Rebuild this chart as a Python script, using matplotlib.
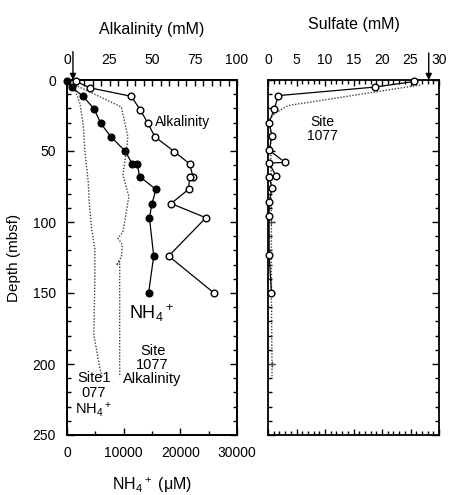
import matplotlib
matplotlib.use("Agg")
import matplotlib.pyplot as plt
from matplotlib.ticker import MultipleLocator

plt.rcParams["font.family"] = ["Liberation Sans", "DejaVu Sans"]
plt.rcParams["mathtext.default"] = "regular"

# Hole A pore-water profiles (mbsf)
nh4_depth = [1, 5, 11.5, 20.5, 30.5, 40, 50, 59, 59, 68, 77, 87, 97, 124, 150]
nh4_um = [0, 800, 2850, 4800, 5950, 7750, 10250, 11500, 12400, 12800,
          15700, 15000, 14550, 15300, 14400]

alk_depth = [1, 5.5, 11.5, 21, 30.5, 40, 50.5, 59, 68, 68.5, 77, 87, 97, 124, 150]
alk_mm = [5.3, 13.5, 37.8, 43.1, 47.6, 51.7, 63.2, 72.1, 74.1, 72.1,
          71.5, 61.2, 81.7, 59.8, 86.5]

so4_depth = [1, 5, 11, 20.5, 30, 39.5, 49.5, 58, 58.5, 67.5, 68, 76, 86, 96, 123, 150]
so4_mm = [25.7, 18.7, 1.8, 1.1, 0.2, 0.7, 0.2, 3.0, 0.2, 1.4, 0.2, 0.7, 0.2, 0.2, 0.2, 0.6]

# Site 1077 reference profiles (dotted)
nh4_1077_depth = [3.5, 16.5, 31.5, 50.5, 71.5, 85.5, 104.5, 118.5, 139.5, 179.5, 203, 209]
nh4_1077_um = [1100, 2280, 2860, 3160, 3740, 3910, 4330, 4910, 4910, 4740, 5790, 6190]

alk_1077_depth = [3.5, 19, 40, 50.5, 67, 82, 107, 111.5, 116, 124.5, 130.5, 128, 151, 209]
alk_1077_mm = [4.7, 32.0, 35.8, 34.9, 32.9, 36.4, 32.9, 30.0, 32.6, 32.0, 29.1, 31.0, 31.0, 31.0]

so4_1077_depth = [3.5, 18, 23.5, 27, 50, 100, 150, 200, 209]
so4_1077_mm = [26.7, 3.5, 1.2, 0.35, 0.5, 0.6, 0.6, 0.7, 0.7]
so4_1077_mark_depth = [100, 200]
so4_1077_mark_mm = [0.6, 0.7]

# bottom-water values marked by arrows
alk_seawater = 3.5
so4_seawater = 28.2

W, H = 455, 495
DOT = dict(color="0.25", lw=1.0, ls=(0, (1, 1.2)))


def style_depth_axis(ax):
    ax.set_ylim(250, 0)
    ax.yaxis.set_major_locator(MultipleLocator(50))
    ax.yaxis.set_minor_locator(MultipleLocator(10))
    ax.tick_params(axis="y", which="both", direction="in", left=True, right=True)
    ax.tick_params(axis="y", which="major", length=5, width=1)
    ax.tick_params(axis="y", which="minor", length=3, width=1)
    for sp in ax.spines.values():
        sp.set_linewidth(1.3)


def arrow_down(ax, x, top):
    ax.annotate("", xy=(x, 1.0), xytext=(x, top),
                xycoords=("data", "axes fraction"), textcoords=("data", "axes fraction"),
                arrowprops=dict(arrowstyle="-|>", color="k", lw=1, mutation_scale=9,
                                shrinkA=0, shrinkB=0),
                annotation_clip=False)


fig = plt.figure(figsize=(W / 100, H / 100), dpi=100)
ax = fig.add_axes([67 / W, 60 / H, 170 / W, 355 / H])
ax_s = fig.add_axes([268 / W, 60 / H, 171 / W, 355 / H])

# --- left panel: NH4+ on bottom axis, alkalinity on top axis ---
style_depth_axis(ax)
ax.set_xlim(0, 30000)
ax.xaxis.set_major_locator(MultipleLocator(10000))
ax.xaxis.set_minor_locator(MultipleLocator(5000))
ax.tick_params(axis="x", which="both", direction="in", top=False, bottom=True,
               labelsize=10, pad=8)
ax.tick_params(axis="x", which="major", length=5, width=1)
ax.tick_params(axis="x", which="minor", length=3, width=1)
ax.tick_params(axis="y", labelsize=10, pad=8)
ax.set_ylabel("Depth (mbsf)", fontsize=11, labelpad=8)
ax.set_xlabel("NH$_4$$^+$ ($\\mu$M)", fontsize=11.5, labelpad=11)

ax.plot(nh4_1077_um, nh4_1077_depth, **DOT)
ax.plot(nh4_um, nh4_depth, color="k", lw=0.9, marker="o", ms=4.8,
        mfc="k", mec="k", clip_on=False, zorder=4)

ax_t = ax.twiny()
ax_t.set_xlim(0, 100)
ax_t.xaxis.set_major_locator(MultipleLocator(25))
ax_t.xaxis.set_minor_locator(MultipleLocator(5))
ax_t.tick_params(axis="x", which="both", direction="in", top=True, bottom=False,
                 labelsize=10, pad=9, length=4, width=1)
ax_t.set_xlabel("Alkalinity (mM)", fontsize=11.5, labelpad=14)
for sp in ax_t.spines.values():
    sp.set_linewidth(1.3)

ax_t.plot(alk_1077_mm, alk_1077_depth, **DOT)
ax_t.plot(alk_mm, alk_depth, color="k", lw=0.9, marker="o", ms=4.8,
          mfc="white", mec="k", clip_on=False, zorder=4)
arrow_down(ax_t, alk_seawater, 1.08)

ax_t.text(52, 29.5, "Alkalinity", fontsize=10, ha="left", va="center")
ax.text(11000, 164, "NH$_4$$^+$", fontsize=13, ha="left", va="center")
ax.text(15100, 201, "Site\n1077\nAlkalinity", fontsize=10.5, ha="center",
        va="center", linespacing=1.0)
ax.text(4700, 222, "Site1\n077\nNH$_4$$^+$", fontsize=10.5, ha="center",
        va="center", linespacing=1.05)

# --- right panel: sulfate ---
style_depth_axis(ax_s)
ax_s.set_xlim(0, 30)
ax_s.xaxis.set_major_locator(MultipleLocator(5))
ax_s.xaxis.set_minor_locator(MultipleLocator(1))
ax_s.tick_params(axis="x", which="both", direction="in", top=True, bottom=True,
                 labeltop=True, labelbottom=False, labelsize=10, pad=9)
ax_s.tick_params(axis="x", which="major", length=4, width=1)
ax_s.tick_params(axis="x", which="minor", length=3, width=1)
ax_s.tick_params(axis="y", labelleft=False)
ax_s.xaxis.set_label_position("top")
ax_s.set_xlabel("Sulfate (mM)", fontsize=11.5, labelpad=18)

ax_s.plot(so4_1077_mm, so4_1077_depth, **DOT)
ax_s.plot(so4_1077_mark_mm, so4_1077_mark_depth, ls="none", marker="+",
          ms=5, color="0.3", mew=0.8)
ax_s.plot(so4_mm, so4_depth, color="k", lw=0.9, marker="o", ms=4.8,
          mfc="white", mec="k", clip_on=False, zorder=4)
arrow_down(ax_s, so4_seawater, 1.076)
ax_s.text(9.5, 34.5, "Site\n1077", fontsize=10, ha="center", va="center",
          linespacing=1.0)

fig.savefig("out.png", dpi=100)
plt.close(fig)
